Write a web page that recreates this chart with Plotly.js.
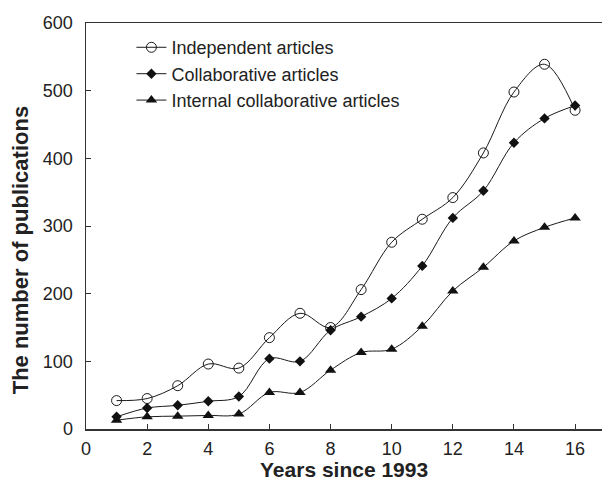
<!DOCTYPE html>
<html>
<head>
<meta charset="utf-8">
<script src="https://cdn.plot.ly/plotly-3.0.1.min.js"></script>
<style>html,body{margin:0;padding:0;background:#fff;}#chart{width:602px;height:487px;}</style>
</head>
<body>
<div id="chart"></div>
<script>
var years = [1,2,3,4,5,6,7,8,9,10,11,12,13,14,15,16];
var independent = [42,45,64,96,90,135,171,150,206,276,310,342,408,498,539,471];
var collaborative = [18,31,35,41,48,104,100,146,166,193,241,312,352,423,459,478];
var internalCollab = [13,18,19,20,22,54,54,87,113,118,152,204,239,278,298,312];
var seriesNames = ["Independent articles","Collaborative articles","Internal collaborative articles"];
var xTicks = [0,2,4,6,8,10,12,14,16];
var yTicks = [0,100,200,300,400,500,600];
var xTitle = 'Years since 1993';
var yTitle = 'The number of publications';

var lineStyle = {color:'#1a1a1a', width:1, shape:'spline', smoothing:1};
var traces = [
  {x:years, y:independent, name:seriesNames[0], type:'scatter', mode:'lines+markers', legendgroup:'a',
   line:lineStyle, marker:{symbol:'circle-open', size:10, color:'#1a1a1a', line:{width:1, color:'#1a1a1a'}}},
  {x:years, y:collaborative, name:seriesNames[1], type:'scatter', mode:'lines+markers', legendgroup:'b',
   line:lineStyle, marker:{symbol:'diamond', size:8, color:'#111'}},
  {x:years, y:internalCollab, name:seriesNames[2], type:'scatter', mode:'lines+markers', legendgroup:'c',
   line:lineStyle, marker:{symbol:'triangle-up', size:10, color:'#111'}}
];
var fontFam = 'Liberation Sans, Arial, sans-serif';
var layout = {
  width:602, height:487,
  margin:{l:86, r:0, t:23, b:58},
  paper_bgcolor:'#fff', plot_bgcolor:'#fff',
  showlegend:true,
  legend:{x:0.088, y:0.985, xanchor:'left', yanchor:'top', bgcolor:'rgba(0,0,0,0)',
          font:{family:fontFam, size:18, color:'#222'}, traceorder:'grouped', tracegroupgap:0, itemwidth:30},
  xaxis:{range:[0,16.88], tickvals:xTicks, ticktext:xTicks.map(String), ticks:'inside', ticklen:5, tickwidth:1, tickcolor:'#333',
         showline:true, linecolor:'#333', linewidth:1.5, mirror:true, showgrid:false, zeroline:false,
         ticklabelstandoff:3,
         tickfont:{family:fontFam, size:18, color:'#222'}},
  yaxis:{range:[0,600], tickvals:yTicks, ticktext:yTicks.map(String), ticks:'inside', ticklen:5, tickwidth:1, tickcolor:'#333',
         showline:true, linecolor:'#333', linewidth:1.5, showgrid:false, zeroline:false,
         ticklabelstandoff:8,
         tickfont:{family:fontFam, size:18, color:'#222'}},
  annotations:[
    {text:yTitle, xref:'paper', yref:'paper', x:-0.128, y:0.44, xanchor:'center', yanchor:'middle',
     textangle:-90, showarrow:false, font:{family:fontFam, size:22, color:'#222', weight:'bold'}},
    {text:xTitle, xref:'paper', yref:'paper', x:0.5, y:-0.1, xanchor:'center', yanchor:'middle',
     showarrow:false, font:{family:fontFam, size:21, color:'#222', weight:'bold'}}
  ]
};
Plotly.newPlot('chart', traces, layout, {displayModeBar:false, staticPlot:true});
</script>
</body>
</html>
